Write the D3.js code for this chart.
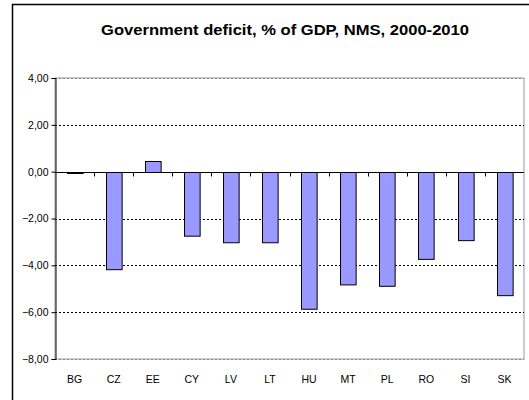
<!DOCTYPE html>
<html><head><meta charset="utf-8">
<script src="https://cdn.jsdelivr.net/npm/d3@7"></script>
<style>body{margin:0;background:#fff}svg{display:block}</style>
</head><body>
<script>
const categories = ["BG","CZ","EE","CY","LV","LT","HU","MT","PL","RO","SI","SK"];
const values = [-0.04,-4.15,0.47,-2.72,-3.0,-3.0,-5.84,-4.8,-4.86,-3.71,-2.91,-5.26];
const yTicks = [4,2,0,-2,-4,-6,-8];
const title = "Government deficit, % of GDP, NMS, 2000-2010";

const W=529,H=400;
const svg=d3.select("body").append("svg").attr("width",W).attr("height",H);
svg.append("rect").attr("width",W).attr("height",H).attr("fill","#fff");
// outer frame (left & top visible)
svg.append("path").attr("d","M12.5,400 V4.5 H529").attr("fill","none").attr("stroke","#000").attr("stroke-width",1.5);

const L=55,R=524,T=78,B=359;
const x=d3.scaleBand().domain(categories).range([L,R]).paddingInner(0.6).paddingOuter(0.3);
const y=d3.scaleLinear().domain([-8,4]).range([B,T]);

svg.append("text").attr("x",285).attr("y",35).attr("text-anchor","middle")
 .attr("font-family","Liberation Sans, Arial, sans-serif").attr("font-weight","bold").attr("font-size",14)
 .attr("textLength",368).attr("lengthAdjust","spacingAndGlyphs")
 .text(title);

// plot area border
svg.append("rect").attr("x",L).attr("y",T).attr("width",R-L).attr("height",B-T)
 .attr("fill","none").attr("stroke","#999").attr("stroke-width",1);

// gridlines
svg.append("g").selectAll("line").data(yTicks.filter(d=>d!==0)).join("line")
 .attr("x1",L).attr("x2",R).attr("y1",d=>Math.round(y(d))+0.5).attr("y2",d=>Math.round(y(d))+0.5)
 .attr("stroke",d=>(d===4||d===-8)?"#888":"#000").attr("stroke-width",1).attr("stroke-dasharray","2,2");

// bars
svg.append("g").selectAll("rect").data(values).join("rect")
 .attr("x",(d,i)=>Math.round(x(categories[i]))+0.5)
 .attr("y",d=>Math.round(y(Math.max(0,d)))+0.5)
 .attr("width",x.bandwidth())
 .attr("height",d=>Math.max(1,Math.abs(y(d)-y(0))))
 .attr("fill","#9999ff").attr("stroke","#000").attr("stroke-width",1);

// y axis
const ya=svg.append("g").attr("transform",`translate(${L+0.5},0)`)
 .call(d3.axisLeft(y).tickValues(yTicks).tickSize(4).tickPadding(3).tickFormat(d=>d3.format(".2f")(d).replace(".",",")));
ya.select(".domain").attr("stroke","#000");
ya.selectAll("text").attr("font-family","Liberation Sans, Arial, sans-serif").attr("font-size",10.5).attr("fill","#000");

// x axis at zero
const step=x.step();
const xa=svg.append("g").attr("transform",`translate(0,${Math.round(y(0))+0.5})`);
xa.append("line").attr("x1",L).attr("x2",R).attr("stroke","#000");
xa.selectAll("line.t").data(d3.range(1,categories.length)).join("line").attr("class","t")
 .attr("x1",i=>Math.round(L+i*step)+0.5).attr("x2",i=>Math.round(L+i*step)+0.5).attr("y1",0).attr("y2",4).attr("stroke","#000");

svg.append("g").selectAll("text").data(categories).join("text")
 .attr("x",d=>x(d)+x.bandwidth()/2).attr("y",383).attr("text-anchor","middle")
 .attr("font-family","Liberation Sans, Arial, sans-serif").attr("font-size",10.5).text(d=>d);
</script>
</body></html>
